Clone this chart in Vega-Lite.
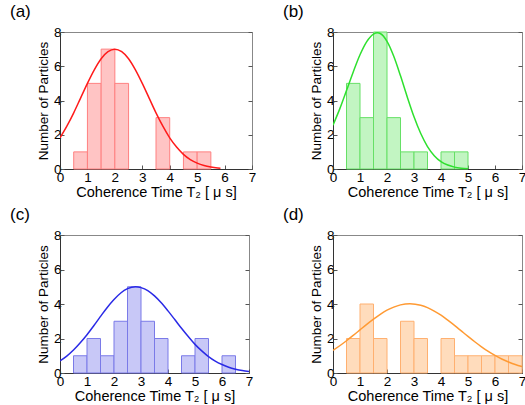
{
  "$schema": "https://vega.github.io/schema/vega-lite/v6.json",
  "padding": {"left": 9, "top": 2, "right": 0, "bottom": 0},
  "background": "white",
  "config": {
    "font": "Liberation Sans",
    "view": {"stroke": "#888", "strokeWidth": 1},
    "axis": {"grid": false, "tickSize": -4, "tickColor": "#555", "domainColor": "#333", "labelFontSize": 13.5, "titleFontSize": 14.5, "titleFontWeight": "normal", "labelColor": "black", "titleColor": "black", "labelFont": "Liberation Sans", "titleFont": "Liberation Sans"},
    "axisX": {"labelPadding": 5, "titlePadding": 2, "labelOverlap": false, "labelFlush": false},
    "axisY": {"labelPadding": 3, "titlePadding": 3, "labelOverlap": false, "labelFlush": false, "titleFontSize": 13.5},
    "title": {"anchor": "start", "frame": "group", "dx": -50, "fontSize": 17, "fontWeight": "normal", "offset": 0, "font": "Liberation Sans"}
  },
  "datasets": {
    "bars": [
      {"panel": "a", "x0": 0.5, "x1": 1.0, "count": 1},
      {"panel": "a", "x0": 1.0, "x1": 1.5, "count": 5},
      {"panel": "a", "x0": 1.5, "x1": 2.0, "count": 7},
      {"panel": "a", "x0": 2.0, "x1": 2.5, "count": 5},
      {"panel": "a", "x0": 3.5, "x1": 4.0, "count": 3},
      {"panel": "a", "x0": 4.5, "x1": 5.0, "count": 1},
      {"panel": "a", "x0": 5.0, "x1": 5.5, "count": 1},
      {"panel": "b", "x0": 0.5, "x1": 1.0, "count": 5},
      {"panel": "b", "x0": 1.0, "x1": 1.5, "count": 3},
      {"panel": "b", "x0": 1.5, "x1": 2.0, "count": 8},
      {"panel": "b", "x0": 2.0, "x1": 2.5, "count": 3},
      {"panel": "b", "x0": 2.5, "x1": 3.0, "count": 1},
      {"panel": "b", "x0": 3.0, "x1": 3.5, "count": 1},
      {"panel": "b", "x0": 4.0, "x1": 4.5, "count": 1},
      {"panel": "b", "x0": 4.5, "x1": 5.0, "count": 1},
      {"panel": "c", "x0": 0.5, "x1": 1.0, "count": 1},
      {"panel": "c", "x0": 1.0, "x1": 1.5, "count": 2},
      {"panel": "c", "x0": 1.5, "x1": 2.0, "count": 1},
      {"panel": "c", "x0": 2.0, "x1": 2.5, "count": 3},
      {"panel": "c", "x0": 2.5, "x1": 3.0, "count": 5},
      {"panel": "c", "x0": 3.0, "x1": 3.5, "count": 3},
      {"panel": "c", "x0": 3.5, "x1": 4.0, "count": 2},
      {"panel": "c", "x0": 4.5, "x1": 5.0, "count": 1},
      {"panel": "c", "x0": 5.0, "x1": 5.5, "count": 2},
      {"panel": "c", "x0": 6.0, "x1": 6.5, "count": 1},
      {"panel": "d", "x0": 0.5, "x1": 1.0, "count": 2},
      {"panel": "d", "x0": 1.0, "x1": 1.5, "count": 4},
      {"panel": "d", "x0": 1.5, "x1": 2.0, "count": 2},
      {"panel": "d", "x0": 2.5, "x1": 3.0, "count": 3},
      {"panel": "d", "x0": 3.0, "x1": 3.5, "count": 2},
      {"panel": "d", "x0": 4.0, "x1": 4.5, "count": 2},
      {"panel": "d", "x0": 4.5, "x1": 5.0, "count": 1},
      {"panel": "d", "x0": 5.0, "x1": 5.5, "count": 1},
      {"panel": "d", "x0": 5.5, "x1": 6.0, "count": 1},
      {"panel": "d", "x0": 6.0, "x1": 6.5, "count": 1},
      {"panel": "d", "x0": 6.5, "x1": 7.0, "count": 1}
    ],
    "curves": [
      {"panel": "a", "x": 0, "y": 1.82}, {"panel": "a", "x": 0.25, "y": 2.5}, {"panel": "a", "x": 0.5, "y": 3.28}, {"panel": "a", "x": 0.75, "y": 4.14},
      {"panel": "a", "x": 1, "y": 5.0}, {"panel": "a", "x": 1.25, "y": 5.79}, {"panel": "a", "x": 1.5, "y": 6.44}, {"panel": "a", "x": 1.75, "y": 6.85},
      {"panel": "a", "x": 2, "y": 7.0}, {"panel": "a", "x": 2.25, "y": 6.85}, {"panel": "a", "x": 2.5, "y": 6.44}, {"panel": "a", "x": 2.75, "y": 5.79},
      {"panel": "a", "x": 3, "y": 5.0}, {"panel": "a", "x": 3.25, "y": 4.14}, {"panel": "a", "x": 3.5, "y": 3.28}, {"panel": "a", "x": 3.75, "y": 2.5},
      {"panel": "a", "x": 4, "y": 1.82}, {"panel": "a", "x": 4.25, "y": 1.28}, {"panel": "a", "x": 4.5, "y": 0.855}, {"panel": "a", "x": 4.75, "y": 0.55},
      {"panel": "a", "x": 5, "y": 0.34}, {"panel": "a", "x": 5.25, "y": 0.2}, {"panel": "a", "x": 5.5, "y": 0.114}, {"panel": "a", "x": 5.75, "y": 0.062}, {"panel": "a", "x": 5.85, "y": 0.048},
      {"panel": "b", "x": 0, "y": 2.56}, {"panel": "b", "x": 0.25, "y": 3.51}, {"panel": "b", "x": 0.5, "y": 4.58}, {"panel": "b", "x": 0.75, "y": 5.67},
      {"panel": "b", "x": 1, "y": 6.67}, {"panel": "b", "x": 1.25, "y": 7.44}, {"panel": "b", "x": 1.5, "y": 7.88}, {"panel": "b", "x": 1.65, "y": 7.95},
      {"panel": "b", "x": 1.75, "y": 7.91}, {"panel": "b", "x": 2, "y": 7.45}, {"panel": "b", "x": 2.25, "y": 6.58}, {"panel": "b", "x": 2.5, "y": 5.44},
      {"panel": "b", "x": 2.75, "y": 4.21}, {"panel": "b", "x": 3, "y": 3.05}, {"panel": "b", "x": 3.25, "y": 2.07}, {"panel": "b", "x": 3.5, "y": 1.31},
      {"panel": "b", "x": 3.75, "y": 0.78}, {"panel": "b", "x": 4, "y": 0.43}, {"panel": "b", "x": 4.25, "y": 0.23}, {"panel": "b", "x": 4.5, "y": 0.11},
      {"panel": "b", "x": 4.75, "y": 0.05}, {"panel": "b", "x": 5, "y": 0.02},
      {"panel": "c", "x": 0, "y": 0.7}, {"panel": "c", "x": 0.25, "y": 0.98}, {"panel": "c", "x": 0.5, "y": 1.33}, {"panel": "c", "x": 0.75, "y": 1.75},
      {"panel": "c", "x": 1, "y": 2.22}, {"panel": "c", "x": 1.25, "y": 2.74}, {"panel": "c", "x": 1.5, "y": 3.28}, {"panel": "c", "x": 1.75, "y": 3.8},
      {"panel": "c", "x": 2, "y": 4.26}, {"panel": "c", "x": 2.25, "y": 4.64}, {"panel": "c", "x": 2.5, "y": 4.89}, {"panel": "c", "x": 2.8, "y": 5.0},
      {"panel": "c", "x": 3, "y": 4.95}, {"panel": "c", "x": 3.25, "y": 4.78}, {"panel": "c", "x": 3.5, "y": 4.47}, {"panel": "c", "x": 3.75, "y": 4.07},
      {"panel": "c", "x": 4, "y": 3.6}, {"panel": "c", "x": 4.25, "y": 3.1}, {"panel": "c", "x": 4.5, "y": 2.59}, {"panel": "c", "x": 4.75, "y": 2.11},
      {"panel": "c", "x": 5, "y": 1.66}, {"panel": "c", "x": 5.25, "y": 1.28}, {"panel": "c", "x": 5.5, "y": 0.95}, {"panel": "c", "x": 5.75, "y": 0.69},
      {"panel": "c", "x": 6, "y": 0.49}, {"panel": "c", "x": 6.25, "y": 0.33}, {"panel": "c", "x": 6.5, "y": 0.22}, {"panel": "c", "x": 6.75, "y": 0.14}, {"panel": "c", "x": 7, "y": 0.09},
      {"panel": "d", "x": 0, "y": 1.31}, {"panel": "d", "x": 0.25, "y": 1.58}, {"panel": "d", "x": 0.5, "y": 1.87}, {"panel": "d", "x": 0.75, "y": 2.18},
      {"panel": "d", "x": 1, "y": 2.5}, {"panel": "d", "x": 1.25, "y": 2.82}, {"panel": "d", "x": 1.5, "y": 3.12}, {"panel": "d", "x": 1.75, "y": 3.4},
      {"panel": "d", "x": 2, "y": 3.64}, {"panel": "d", "x": 2.25, "y": 3.82}, {"panel": "d", "x": 2.5, "y": 3.95}, {"panel": "d", "x": 2.85, "y": 4.02},
      {"panel": "d", "x": 3.25, "y": 3.93}, {"panel": "d", "x": 3.5, "y": 3.79}, {"panel": "d", "x": 3.75, "y": 3.59},
      {"panel": "d", "x": 4, "y": 3.35}, {"panel": "d", "x": 4.25, "y": 3.06}, {"panel": "d", "x": 4.5, "y": 2.76}, {"panel": "d", "x": 4.75, "y": 2.44},
      {"panel": "d", "x": 5, "y": 2.12}, {"panel": "d", "x": 5.25, "y": 1.81}, {"panel": "d", "x": 5.5, "y": 1.52}, {"panel": "d", "x": 5.75, "y": 1.25},
      {"panel": "d", "x": 6, "y": 1.02}, {"panel": "d", "x": 6.25, "y": 0.81}, {"panel": "d", "x": 6.5, "y": 0.64}, {"panel": "d", "x": 6.75, "y": 0.49}, {"panel": "d", "x": 7, "y": 0.37}
    ]
  },
  "columns": 2,
  "spacing": {"row": 5, "column": 25},
  "concat": [
    {
      "title": "(a)", "width": 192, "height": 137,
      "resolve": {"scale": {"y": "independent"}},
      "layer": [
        {"data": {"name": "bars"}, "transform": [{"filter": "datum.panel === 'a'"}],
         "mark": {"type": "rect", "fill": "#ffc4c4", "stroke": "#ff8080", "strokeWidth": 1},
         "encoding": {
           "x": {"field": "x0", "type": "quantitative", "scale": {"domain": [0, 7], "nice": false}, "axis": {"values": [0,1,2,3,4,5,6,7], "labelOverlap": false, "title": "Coherence Time   T₂ [ μ s]"}},
           "x2": {"field": "x1"},
           "y": {"field": "count", "type": "quantitative", "scale": {"domain": [0, 8], "nice": false}, "axis": {"values": [0,2,4,6,8], "labelOverlap": false, "title": "Number of Particles"}},
           "y2": {"datum": 0}}},
        {"data": {"name": "curves"}, "transform": [{"filter": "datum.panel === 'a'"}],
         "mark": {"type": "line", "color": "#ff1a1a", "strokeWidth": 1.5, "interpolate": "monotone", "clip": true},
         "encoding": {
           "x": {"field": "x", "type": "quantitative", "axis": {"values": [0,1,2,3,4,5,6,7], "labelOverlap": false, "title": "Coherence Time   T₂ [ μ s]"}},
           "y": {"field": "y", "type": "quantitative", "scale": {"domain": [0, 8], "nice": false}, "axis": {"orient": "right", "labels": false, "title": null, "domain": false, "values": [0,2,4,6,8]}}}}
      ]
    },
    {
      "title": "(b)", "width": 189, "height": 137,
      "resolve": {"scale": {"y": "independent"}},
      "layer": [
        {"data": {"name": "bars"}, "transform": [{"filter": "datum.panel === 'b'"}],
         "mark": {"type": "rect", "fill": "#c2f5c2", "stroke": "#66e066", "strokeWidth": 1},
         "encoding": {
           "x": {"field": "x0", "type": "quantitative", "scale": {"domain": [0, 7], "nice": false}, "axis": {"values": [0,1,2,3,4,5,6,7], "labelOverlap": false, "title": "Coherence Time   T₂ [ μ s]"}},
           "x2": {"field": "x1"},
           "y": {"field": "count", "type": "quantitative", "scale": {"domain": [0, 8], "nice": false}, "axis": {"values": [0,2,4,6,8], "labelOverlap": false, "title": "Number of Particles"}},
           "y2": {"datum": 0}}},
        {"data": {"name": "curves"}, "transform": [{"filter": "datum.panel === 'b'"}],
         "mark": {"type": "line", "color": "#2ee02e", "strokeWidth": 1.5, "interpolate": "monotone", "clip": true},
         "encoding": {
           "x": {"field": "x", "type": "quantitative", "axis": {"values": [0,1,2,3,4,5,6,7], "labelOverlap": false, "title": "Coherence Time   T₂ [ μ s]"}},
           "y": {"field": "y", "type": "quantitative", "scale": {"domain": [0, 8], "nice": false}, "axis": {"orient": "right", "labels": false, "title": null, "domain": false, "values": [0,2,4,6,8]}}}}
      ]
    },
    {
      "title": "(c)", "width": 189, "height": 138,
      "resolve": {"scale": {"y": "independent"}},
      "layer": [
        {"data": {"name": "bars"}, "transform": [{"filter": "datum.panel === 'c'"}],
         "mark": {"type": "rect", "fill": "#c8c8f7", "stroke": "#7a7ae8", "strokeWidth": 1},
         "encoding": {
           "x": {"field": "x0", "type": "quantitative", "scale": {"domain": [0, 7], "nice": false}, "axis": {"values": [0,1,2,3,4,5,6,7], "labelOverlap": false, "title": "Coherence Time   T₂ [ μ s]"}},
           "x2": {"field": "x1"},
           "y": {"field": "count", "type": "quantitative", "scale": {"domain": [0, 8], "nice": false}, "axis": {"values": [0,2,4,6,8], "labelOverlap": false, "title": "Number of Particles"}},
           "y2": {"datum": 0}}},
        {"data": {"name": "curves"}, "transform": [{"filter": "datum.panel === 'c'"}],
         "mark": {"type": "line", "color": "#2a2ae6", "strokeWidth": 1.5, "interpolate": "monotone", "clip": true},
         "encoding": {
           "x": {"field": "x", "type": "quantitative", "axis": {"values": [0,1,2,3,4,5,6,7], "labelOverlap": false, "title": "Coherence Time   T₂ [ μ s]"}},
           "y": {"field": "y", "type": "quantitative", "scale": {"domain": [0, 8], "nice": false}, "axis": {"orient": "right", "labels": false, "title": null, "domain": false, "values": [0,2,4,6,8]}}}}
      ]
    },
    {
      "title": "(d)", "width": 189, "height": 138,
      "resolve": {"scale": {"y": "independent"}},
      "layer": [
        {"data": {"name": "bars"}, "transform": [{"filter": "datum.panel === 'd'"}],
         "mark": {"type": "rect", "fill": "#ffdcbc", "stroke": "#ffb070", "strokeWidth": 1},
         "encoding": {
           "x": {"field": "x0", "type": "quantitative", "scale": {"domain": [0, 7], "nice": false}, "axis": {"values": [0,1,2,3,4,5,6,7], "labelOverlap": false, "title": "Coherence Time   T₂ [ μ s]"}},
           "x2": {"field": "x1"},
           "y": {"field": "count", "type": "quantitative", "scale": {"domain": [0, 8], "nice": false}, "axis": {"values": [0,2,4,6,8], "labelOverlap": false, "title": "Number of Particles"}},
           "y2": {"datum": 0}}},
        {"data": {"name": "curves"}, "transform": [{"filter": "datum.panel === 'd'"}],
         "mark": {"type": "line", "color": "#ff9a33", "strokeWidth": 1.5, "interpolate": "monotone", "clip": true},
         "encoding": {
           "x": {"field": "x", "type": "quantitative", "axis": {"values": [0,1,2,3,4,5,6,7], "labelOverlap": false, "title": "Coherence Time   T₂ [ μ s]"}},
           "y": {"field": "y", "type": "quantitative", "scale": {"domain": [0, 8], "nice": false}, "axis": {"orient": "right", "labels": false, "title": null, "domain": false, "values": [0,2,4,6,8]}}}}
      ]
    }
  ]
}
